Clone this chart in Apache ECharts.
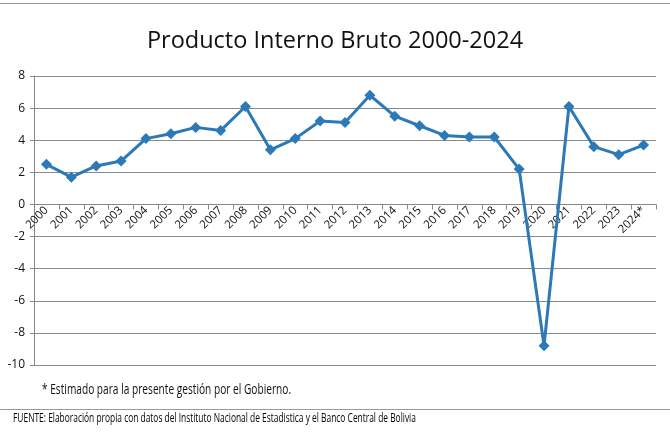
<!DOCTYPE html>
<html>
<head>
<meta charset="utf-8">
<script src="https://cdn.jsdelivr.net/npm/echarts@6/dist/echarts.min.js"></script>
<style>
  html, body { margin: 0; padding: 0; background: #fff; }
  #chart { width: 670px; height: 435px; }
</style>
</head>
<body>
<div id="chart"></div>
<script>
// años y tasa de crecimiento del PIB (%)
var years = ['2000', '2001', '2002', '2003', '2004', '2005', '2006', '2007', '2008', '2009',
             '2010', '2011', '2012', '2013', '2014', '2015', '2016', '2017', '2018', '2019',
             '2020', '2021', '2022', '2023', '2024*'];
var pib = [2.5, 1.7, 2.4, 2.7, 4.1, 4.4, 4.8, 4.6, 6.1, 3.4,
           4.1, 5.2, 5.1, 6.8, 5.5, 4.9, 4.3, 4.2, 4.2, 2.2,
           -8.8, 6.1, 3.6, 3.1, 3.7];
var yTicks = [-10, -8, -6, -4, -2, 0, 2, 4, 6, 8];

var chart = echarts.init(document.getElementById('chart'));
var font = '"Open Sans", "Noto Sans", sans-serif';

var gridTop = 76, gridBottom = 70;
var plotH = 435 - gridTop - gridBottom;
var yMin = yTicks[0], yMax = yTicks[yTicks.length - 1];
// el eje de categorías va sobre el cero
var zeroOffset = plotH * (0 - yMin) / (yMax - yMin);

var option = {
    backgroundColor: '#fff',
    animation: false,
    title: {
        text: 'Producto Interno Bruto 2000-2024',
        left: 'center',
        top: 24,
        textStyle: { fontFamily: font, fontSize: 23.5, fontWeight: 'normal', color: '#111' }
    },
    grid: { left: 34, right: 14, top: gridTop, bottom: gridBottom },
    xAxis: {
        type: 'category',
        data: years,
        boundaryGap: true,
        offset: -zeroOffset,
        axisLine: { onZero: false, lineStyle: { color: '#888', width: 1 } },
        axisTick: { show: true, length: 5, alignWithLabel: false, lineStyle: { color: '#888' } },
        axisLabel: { rotate: 45, interval: 0, margin: 4, fontFamily: font, fontSize: 11.5, color: '#111' }
    },
    yAxis: {
        type: 'value',
        min: yMin,
        max: yMax,
        interval: 2,
        axisLine: { show: true, lineStyle: { color: '#888', width: 1 } },
        axisTick: { show: true, length: 4, lineStyle: { color: '#888' } },
        axisLabel: { margin: 9, fontFamily: font, fontSize: 12, color: '#111' },
        splitLine: { lineStyle: { color: '#8a8a8a', width: 1 } }
    },
    series: [{
        type: 'line',
        data: pib,
        symbol: 'diamond',
        symbolSize: 11,
        lineStyle: { color: '#2C79B8', width: 3 },
        itemStyle: { color: '#2C79B8' }
    }],
    graphic: [
        { type: 'line', shape: { x1: 0, y1: 3.5, x2: 670, y2: 3.5 }, style: { stroke: '#9a9a9a', lineWidth: 1 } },
        { type: 'line', shape: { x1: 0, y1: 409.5, x2: 670, y2: 409.5 }, style: { stroke: '#9a9a9a', lineWidth: 1 } },
        { type: 'text', x: 42, y: 382, scaleX: 0.7,
          style: { text: '* Estimado para la presente gestión por el Gobierno.', font: '14.5px ' + font, fill: '#111' } },
        { type: 'text', x: 13, y: 413, scaleX: 0.7,
          style: { text: 'FUENTE: Elaboración propia con datos del Instituto Nacional de Estadistica y el Banco Central de Bolivia',
                   font: '12px ' + font, fill: '#000' } }
    ]
};

chart.setOption(option);
</script>
</body>
</html>
